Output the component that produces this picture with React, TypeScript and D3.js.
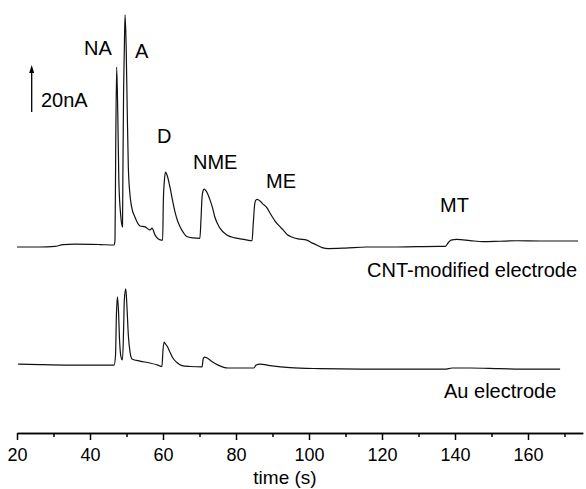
import React, { useEffect, useRef } from "react";
import * as d3 from "d3";

// Amperometric traces (time in s, current in nA)
const cntTime = [
  20, 26.3, 30.4, 32.6, 35.9, 42.7, 46.6, 46.85, 47.04, 47.3, 47.6, 47.9, 48.4, 48.9,
  49.0, 49.2, 49.4, 49.6, 49.9, 50.2, 50.5, 50.96, 51.4, 52.3, 52.9, 53.7, 55.1, 56.4,
  57.0, 57.8, 59.5, 59.9, 60.1, 60.4, 60.7, 61.1, 61.9, 62.6, 63.3, 64.1, 64.7, 65.5,
  66.5, 68.2, 70.1, 70.4, 70.7, 70.96, 71.3, 71.8, 72.9, 73.6, 74.2, 75.6, 77.5, 79.7,
  82.5, 84.4, 84.7, 85.1, 85.3, 85.8, 86.6, 87.4, 88.4, 89.3, 90.7, 92.1, 92.9, 94.0,
  95.3, 97.0, 99.4, 100.8, 102.1, 103.6, 105.3, 109.9, 115.8, 122.2, 129.5, 135.9,
  137.3, 138.1, 138.9, 140.5, 144.1, 147.7, 152.3, 156.9, 163.3, 168.8, 173.7,
];
const cntCurrent = [
  -0.85, -0.85, -0.6, 0.2, 0.4, 0.2, 0, 2, 40, 75.7, 57, 27.7, 12.8, 7.7,
  27.7, 64.7, 83, 97.9, 85, 57.4, 33.2, 21.3, 16.2, 11.9, 9.8, 8.1, 7.7, 6.4,
  7.2, 4.3, 2.1, 2.1, 19, 27.7, 31, 29.8, 24.7, 19.1, 14, 9.8, 7.7, 5.5,
  3.6, 3, 2.8, 10.6, 20.4, 23, 23.8, 23, 19.1, 15.7, 11.9, 7.2, 4.3, 3,
  2.3, 1.8, 8.5, 17, 18.7, 19.4, 18.7, 17.4, 16, 13.6, 10.2, 7.7, 6.4, 4.5,
  3.4, 2.6, 2.1, 0.9, 0, -1.1, -1.5, -1.3, -0.85, -0.85, -0.7, -0.6,
  -0.6, 0.85, 2.1, 2.4, 1.9, 1.4, 1.6, 1.8, 1.7, 1.7, 1.7,
];

const auTime = [
  20.3, 26.3, 34.5, 42.7, 46.6, 47.0, 47.2, 47.5, 47.8, 48.1, 48.5, 48.9, 49.2, 49.4,
  49.8, 50.1, 50.5, 50.96, 51.5, 53.7, 56.4, 58.6, 59.7, 60.0, 60.3, 60.5, 61.1, 61.9,
  62.7, 63.8, 65.2, 67.4, 70.7, 71.0, 71.4, 72.1, 73.4, 75.1, 77.8, 84.9, 85.5, 86.6,
  89.3, 94.8, 103, 114, 124.9, 137.3, 139.2, 144.1, 152.3, 160.5, 168.8,
];
const auCurrent = [
  0.85, 0.6, 0.4, 0.4, 0.4, 4.7, 19.6, 29.4, 23.8, 11, 3.8, 2.6, 15.3, 28,
  32.8, 26, 13.2, 6, 3, 2.1, 1.3, 0.4, -0.2, 6.8, 10.2, 9.8, 8.5, 6,
  3.4, 1.5, 0.2, -0.2, -0.4, 3, 3.8, 3.4, 1.9, 0.4, -0.85, -0.85, 0.4, 0.85,
  0.2, -0.7, -1.1, -1.3, -1.3, -1.3, -0.85, -0.85, -1.1, -1.3, -1.3,
];

const majorTicks = [20, 40, 60, 80, 100, 120, 140, 160];
const minorTicks = [30, 50, 70, 90, 110, 130, 150, 170];

const peakNames = ["NA", "A", "D", "NME", "ME", "MT"];
const traceNames = ["CNT-modified electrode", "Au electrode"];
const scaleBarValue = 20; // nA
const scaleBarLabel = "20nA";
const axisTitle = "time (s)";

// layout
const W = 586;
const H = 489;
const AU_SHIFT = -51.5; // vertical offset of the lower trace, nA
const FONT = "'Liberation Sans', Arial, Helvetica, sans-serif";
const peakLabelPos = [
  [84, 55],
  [135, 58],
  [157, 143],
  [193, 169],
  [266, 188],
  [440, 212],
];
const traceLabelPos = [
  [367, 277],
  [444, 398],
];

export default function App() {
  const ref = useRef<SVGSVGElement | null>(null);

  useEffect(() => {
    const svg = d3.select(ref.current);
    svg.selectAll("*").remove();

    const x = d3.scaleLinear().domain([20, 175]).range([17, 582.75]);
    const y = d3.scaleLinear().domain([0, 100]).range([245, 10]);

    const line = d3
      .line<[number, number]>()
      .x((d) => x(d[0]))
      .y((d) => y(d[1]))
      .curve(d3.curveMonotoneX);

    const cnt: [number, number][] = cntTime.map((t, i) => [t, cntCurrent[i]]);
    const au: [number, number][] = auTime.map((t, i) => [t, auCurrent[i] + AU_SHIFT]);

    [cnt, au].forEach((series) => {
      svg
        .append("path")
        .attr("d", line(series))
        .attr("fill", "none")
        .attr("stroke", "#111")
        .attr("stroke-width", 1.2)
        .attr("stroke-linejoin", "round");
    });

    // bottom axis
    const axisY = 433;
    const gMinor = svg.append("g").attr("transform", `translate(0,${axisY})`);
    gMinor.call(
      d3.axisBottom(x).tickValues(minorTicks).tickSize(4).tickSizeOuter(0).tickFormat(() => "")
    );
    const gMajor = svg.append("g").attr("transform", `translate(0,${axisY})`);
    gMajor.call(d3.axisBottom(x).tickValues(majorTicks).tickSize(7).tickSizeOuter(0).tickPadding(8));
    svg.selectAll(".domain").attr("stroke", "#000").attr("stroke-width", 1.5);
    svg.selectAll(".tick line").attr("stroke", "#000").attr("stroke-width", 1.5);
    gMajor
      .selectAll(".tick text")
      .attr("font-family", FONT)
      .attr("font-size", 18)
      .attr("fill", "#000");

    svg
      .append("text")
      .attr("x", 285)
      .attr("y", 484)
      .attr("text-anchor", "middle")
      .attr("font-family", FONT)
      .attr("font-size", 19)
      .text(axisTitle);

    // scale bar arrow
    const barX = 31.7;
    const barBottom = 112;
    const barTop = barBottom - (y(0) - y(scaleBarValue));
    svg
      .append("line")
      .attr("x1", barX)
      .attr("x2", barX)
      .attr("y1", barBottom)
      .attr("y2", barTop + 5)
      .attr("stroke", "#000")
      .attr("stroke-width", 1.3);
    svg
      .append("path")
      .attr("d", `M${barX},${barTop} L${barX - 2.5},${barTop + 8} L${barX + 2.5},${barTop + 8} Z`)
      .attr("fill", "#000");
    svg
      .append("text")
      .attr("x", 41)
      .attr("y", 107)
      .attr("font-family", FONT)
      .attr("font-size", 20)
      .text(scaleBarLabel);

    peakNames.forEach((name, i) => {
      svg
        .append("text")
        .attr("x", peakLabelPos[i][0])
        .attr("y", peakLabelPos[i][1])
        .attr("font-family", FONT)
        .attr("font-size", 20)
        .text(name);
    });

    traceNames.forEach((name, i) => {
      svg
        .append("text")
        .attr("x", traceLabelPos[i][0])
        .attr("y", traceLabelPos[i][1])
        .attr("font-family", FONT)
        .attr("font-size", 20)
        .text(name);
    });
  }, []);

  return (
    <svg
      ref={ref}
      width={W}
      height={H}
      style={{ position: "absolute", left: 0, top: 0, background: "#fff" }}
    />
  );
}
